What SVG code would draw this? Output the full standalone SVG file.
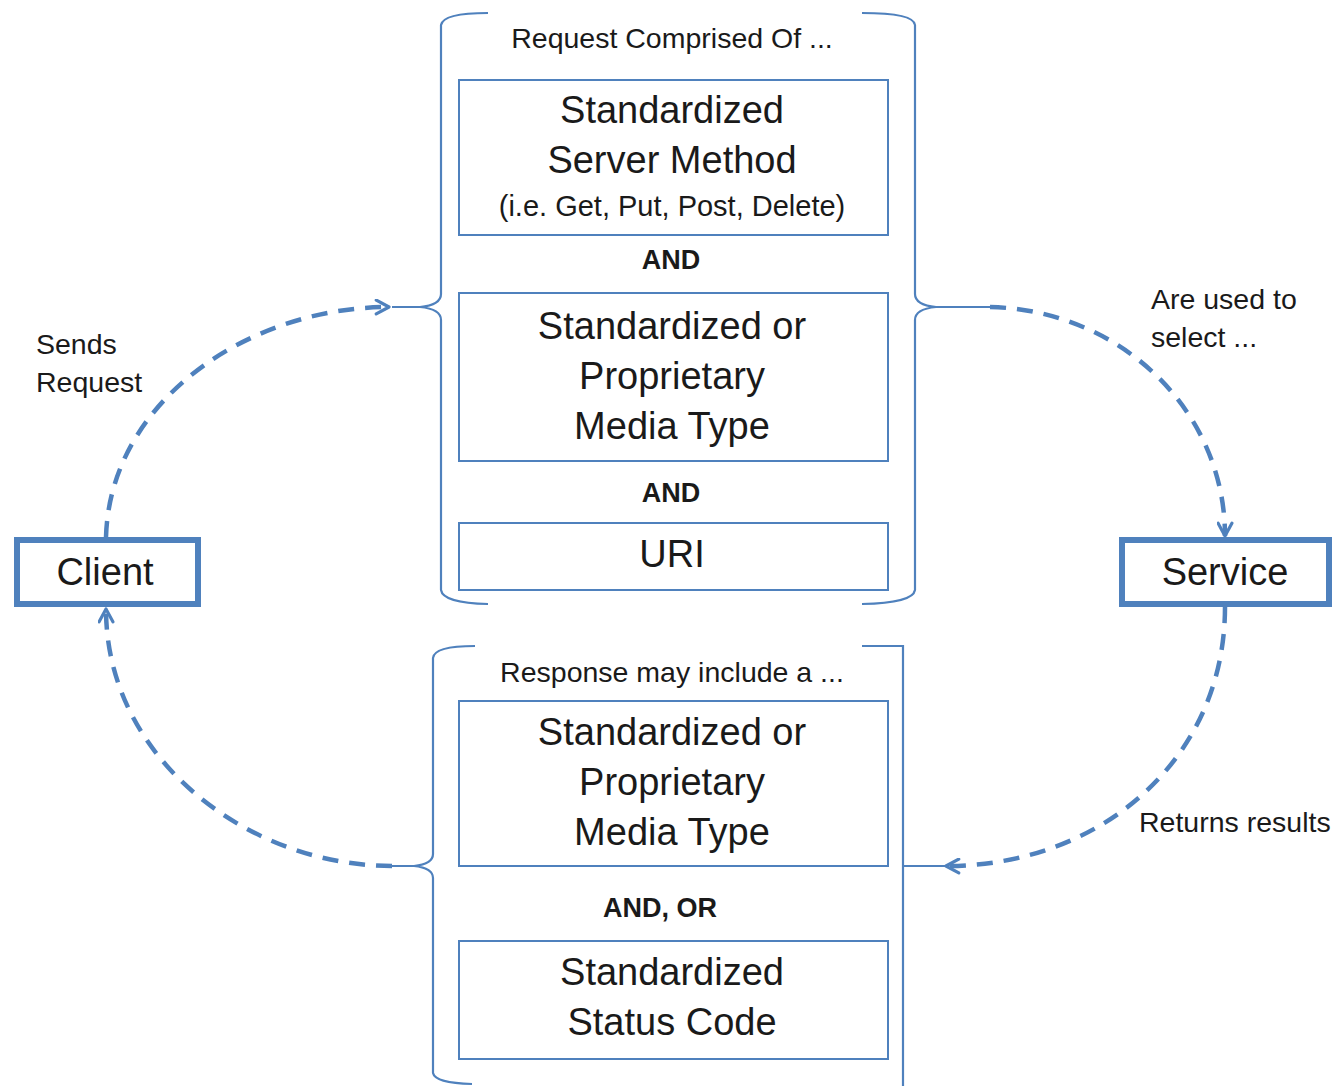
<svg xmlns="http://www.w3.org/2000/svg" width="1341" height="1086" viewBox="0 0 1341 1086">
<style>
text{font-family:"Liberation Sans",Arial,sans-serif;fill:#1a1a1a}
.big{font-size:38px;text-anchor:middle}
.hd{font-size:28.5px;text-anchor:middle}
.sm{font-size:29px;text-anchor:middle}
.and{font-size:27px;font-weight:bold;text-anchor:middle}
.lbl{font-size:28.5px}
.box{fill:#fff;stroke:#4F81BD;stroke-width:2}
.node{fill:#fff;stroke:#4F81BD;stroke-width:6}
.brace{fill:none;stroke:#4F81BD;stroke-width:2.2}
.conn{fill:none;stroke:#4F81BD;stroke-width:4.5;stroke-dasharray:16 11}
</style>
<defs>
<marker id="arr" viewBox="0 0 16 16" refX="14" refY="8" markerWidth="17" markerHeight="17" markerUnits="userSpaceOnUse" orient="auto">
<path d="M2,1.5 L14,8 L2,14.5" fill="none" stroke="#4F81BD" stroke-width="3" stroke-linecap="round" stroke-linejoin="round"/>
</marker>
</defs>
<rect width="1341" height="1086" fill="#fff"/>

<g id="request-group">
<path class="brace" d="M488,13 Q443,13 441,25 L441,294 Q441,305 420,307 L392,307 M420,307 Q441,309 441,320 L441,590 Q443,603 488,604"/>
<path class="brace" d="M862,13 Q914,13 915,25 L915,294 Q915,305 936,307 L990,307 M936,307 Q915,309 915,320 L915,590 Q913,603 862,604"/>
<text class="hd" x="672" y="48">Request Comprised Of  ...</text>
</g>
<g id="server-method">
<rect class="box" x="459" y="80" width="429" height="155"/>
<text class="big" x="672" y="123">Standardized</text>
<text class="big" x="672" y="173">Server Method</text>
<text class="sm" x="672" y="216">(i.e. Get, Put, Post, Delete)</text>
</g>
<text class="and" x="671" y="269">AND</text>
<g id="media-type-req">
<rect class="box" x="459" y="293" width="429" height="168"/>
<text class="big" x="672" y="339">Standardized or</text>
<text class="big" x="672" y="389">Proprietary</text>
<text class="big" x="672" y="439">Media Type</text>
</g>
<text class="and" x="671" y="502">AND</text>
<g id="uri">
<rect class="box" x="459" y="523" width="429" height="67"/>
<text class="big" x="672" y="567">URI</text>
</g>

<g id="response-group">
<path class="brace" d="M475,646 Q434,646 433,658 L433,854 Q433,864 414,866 L392,866 M414,866 Q433,868 433,878 L433,1073 Q435,1083 472,1084"/>
<path class="brace" d="M862,646 L903,646 L903,1086 M903,866 L945,866"/>
<text class="hd" x="672" y="682">Response may include a ...</text>
</g>
<g id="media-type-resp">
<rect class="box" x="459" y="701" width="429" height="165"/>
<text class="big" x="672" y="745">Standardized or</text>
<text class="big" x="672" y="795">Proprietary</text>
<text class="big" x="672" y="845">Media Type</text>
</g>
<text class="and" x="660" y="917">AND, OR</text>
<g id="status-code">
<rect class="box" x="459" y="941" width="429" height="118"/>
<text class="big" x="672" y="985">Standardized</text>
<text class="big" x="672" y="1035">Status Code</text>
</g>

<g id="client">
<rect class="node" x="17" y="540" width="181" height="64"/>
<text class="big" x="105" y="585">Client</text>
</g>
<g id="service">
<rect class="node" x="1122" y="540" width="207" height="64"/>
<text class="big" x="1225" y="585">Service</text>
</g>

<g id="connectors">
<path class="conn" d="M106,537 C110,400 250,307 389,307" marker-end="url(#arr)"/>
<path class="conn" d="M990,307 C1120,310 1225,410 1225,536" marker-end="url(#arr)"/>
<path class="conn" d="M1225,607 C1225,760 1100,866 946,866" marker-end="url(#arr)"/>
<path class="conn" d="M392,866 C250,866 106,760 106,609" marker-end="url(#arr)"/>
</g>

<g id="labels">
<text class="lbl" x="36" y="354">Sends</text>
<text class="lbl" x="36" y="392">Request</text>
<text class="lbl" x="1151" y="309">Are used to</text>
<text class="lbl" x="1151" y="347">select  ...</text>
<text class="lbl" x="1139" y="832">Returns results</text>
</g>
</svg>
